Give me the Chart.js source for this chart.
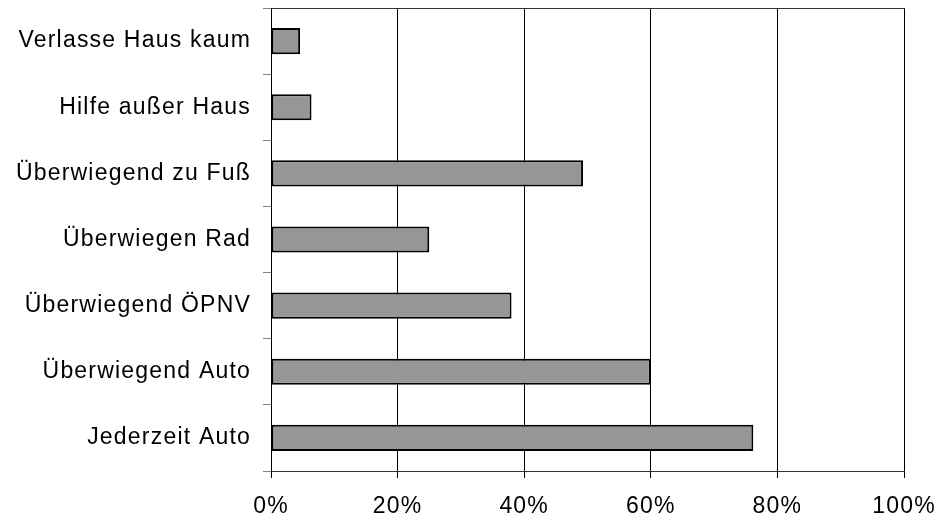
<!DOCTYPE html>
<html lang="de">
<head>
<meta charset="utf-8">
<title>Mobilität</title>
<script src="https://cdn.jsdelivr.net/npm/chart.js@4/dist/chart.umd.min.js"></script>
<style>
    html, body { margin: 0; padding: 0; background: #fff; }
    #wrap { width: 939px; height: 524px; }
</style>
</head>
<body>
<div id="wrap"><canvas id="myChart" width="939" height="524"></canvas></div>
<script>
const categories = ['Verlasse Haus kaum', 'Hilfe außer Haus', 'Überwiegend zu Fuß', 'Überwiegen Rad', 'Überwiegend ÖPNV', 'Überwiegend Auto', 'Jederzeit Auto'];
const values = [4.6, 6.4, 49.3, 25.0, 38.0, 60.0, 76.2];
const tickValues = [0, 20, 40, 60, 80, 100];

document.addEventListener('DOMContentLoaded', () => {

    if(document.querySelectorAll('#myChart').length){
        const ctx = document.getElementById('myChart').getContext('2d');

        const spacing = {
            id: 'spacing',
            beforeUpdate(chart) { chart.ctx.letterSpacing = '1.2px'; },
            beforeDraw(chart) { chart.ctx.letterSpacing = '1.2px'; }
        };

        const data = {
            labels: categories,
            datasets: [{
                data: values,
                backgroundColor: '#969696',
                borderColor: '#000000',
                borderWidth: 2,
                borderSkipped: false,
                categoryPercentage: 0.395,
                barPercentage: 1
            }]
        };

        const options = {
            indexAxis: 'y',
            responsive: false,
            animation: false,
            devicePixelRatio: 1,
            layout: {
                padding: { left: 0, top: 8, right: 35, bottom: 0 }
            },
            plugins: {
                legend: { display: false },
                tooltip: { enabled: false }
            },
            scales: {
                x: {
                    min: 0,
                    max: 100,
                    afterBuildTicks: (scale) => { scale.ticks = tickValues.map(v => ({ value: v })); },
                    afterFit: (scale) => {
                        scale.height = 53;
                        scale.paddingLeft = 0;
                        scale.paddingRight = 0;
                    },
                    ticks: {
                        color: '#000',
                        font: { family: 'Liberation Sans', size: 23 },
                        padding: 15,
                        maxRotation: 0,
                        callback: (v) => v + '%'
                    },
                    grid: {
                        color: '#000',
                        lineWidth: 1,
                        tickLength: 7
                    },
                    border: { color: '#333', width: 1 }
                },
                x2: {
                    type: 'linear',
                    position: 'top',
                    afterFit: (scale) => {
                        scale.height = 0;
                        scale.paddingLeft = 0;
                        scale.paddingRight = 0;
                    },
                    ticks: { display: false },
                    grid: { display: false, drawTicks: false },
                    border: { display: true, color: '#333', width: 1 }
                },
                y: {
                    afterFit: (scale) => {
                        scale.width = 271;
                        scale.paddingTop = 0;
                        scale.paddingBottom = 0;
                    },
                    ticks: {
                        color: '#000',
                        font: { family: 'Liberation Sans', size: 23 },
                        padding: 12
                    },
                    grid: {
                        offset: true,
                        drawOnChartArea: false,
                        tickLength: 8,
                        color: '#808080'
                    },
                    border: { color: '#000', width: 1 }
                }
            }
        };

        const myChart = new Chart(ctx, {
            type: 'bar',
            data: data,
            options: options,
            plugins: [spacing]
        });
    }
})
</script>
</body>
</html>
